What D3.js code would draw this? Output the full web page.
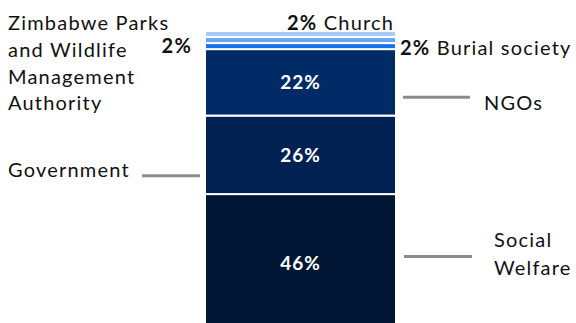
<!DOCTYPE html>
<html>
<head>
<meta charset="utf-8">
<script src="https://cdn.jsdelivr.net/npm/d3@7"></script>
<style>
  html, body { margin: 0; padding: 0; background: #fff; }
  svg { display: block; font-family: Lato, "Open Sans", sans-serif; }
</style>
</head>
<body>
<svg id="chart" width="576" height="323"></svg>
<script>
// Stacked share of support sources, bottom to top
const sources = ["Social Welfare", "Government", "NGOs", "Zimbabwe Parks and Wildlife Management Authority", "Burial society", "Church"];
const shares = [46, 26, 22, 2, 2, 2];
const colors = ["#001634", "#002152", "#002b66", "#1672ec", "#68a6f2", "#a6cbf5"];

const svg = d3.select("#chart");

const rows = [Object.fromEntries(sources.map((s, i) => [s, shares[i]]))];
const series = d3.stack().keys(sources)(rows);

const x = d3.scaleBand().domain(["all"]).range([205, 396]).padding(0);
const y = d3.scaleLinear().domain([0, 100]).range([333, 31]);

svg.append("g").selectAll("rect")
  .data(series)
  .join("rect")
  .attr("x", x("all"))
  .attr("width", x.bandwidth())
  .attr("y", d => y(d[0][1]))
  .attr("height", d => y(d[0][0]) - y(d[0][1]))
  .attr("fill", (d, i) => colors[i])
  .attr("stroke", "#fff")
  .attr("stroke-width", 2);

// In-bar value labels for the large segments
const cx = x("all") + x.bandwidth() / 2;
svg.append("g").selectAll("text")
  .data(series.filter(d => d[0][1] - d[0][0] > 10))
  .join("text")
  .attr("x", cx)
  .attr("y", d => y((d[0][0] + d[0][1]) / 2))
  .attr("dy", "0.36em")
  .attr("text-anchor", "middle")
  .attr("fill", "#fff")
  .attr("font-weight", "bold")
  .attr("font-size", 19)
  .attr("letter-spacing", 1)
  .text(d => shares[sources.indexOf(d.key)] + "%");

const label = svg.append("g").attr("fill", "#111").attr("font-size", 20).attr("letter-spacing", 1.2);
const grey = "#8c8c8c";
const mid = k => { const s = series.find(d => d.key === k)[0]; return y((s[0] + s[1]) / 2); };

// Social Welfare
svg.append("line").attr("x1", 404).attr("x2", 472)
  .attr("y1", mid("Social Welfare") - 7).attr("y2", mid("Social Welfare") - 7)
  .attr("stroke", grey).attr("stroke-width", 3);
label.append("text").attr("x", 494).attr("y", 247).text("Social");
label.append("text").attr("x", 494).attr("y", 275).text("Welfare");

// Government
svg.append("line").attr("x1", 142).attr("x2", 200)
  .attr("y1", mid("Government") + 21).attr("y2", mid("Government") + 21)
  .attr("stroke", grey).attr("stroke-width", 3);
label.append("text").attr("x", 8).attr("y", 177).text("Government");

// NGOs
svg.append("line").attr("x1", 403).attr("x2", 470)
  .attr("y1", mid("NGOs") + 15).attr("y2", mid("NGOs") + 15)
  .attr("stroke", grey).attr("stroke-width", 3);
label.append("text").attr("x", 484).attr("y", 110).text("NGOs");

// Zimbabwe Parks and Wildlife Management Authority
const zp = label.append("text").attr("x", 8).attr("y", 30);
["Zimbabwe Parks", "and Wildlife", "Management", "Authority"].forEach((t, i) =>
  zp.append("tspan").attr("x", 8).attr("y", 30 + i * 26.8).text(t));
label.append("text").attr("x", 192).attr("y", 53).attr("text-anchor", "end")
  .attr("font-weight", "bold").text(shares[3] + "%");

// Burial society
const bs = label.append("text").attr("x", 400).attr("y", 55);
bs.append("tspan").attr("font-weight", "bold").text(shares[4] + "%");
bs.append("tspan").text(" Burial society");

// Church
const ch = label.append("text").attr("x", 287).attr("y", 30);
ch.append("tspan").attr("font-weight", "bold").text(shares[5] + "%");
ch.append("tspan").text(" Church");
</script>
</body>
</html>
